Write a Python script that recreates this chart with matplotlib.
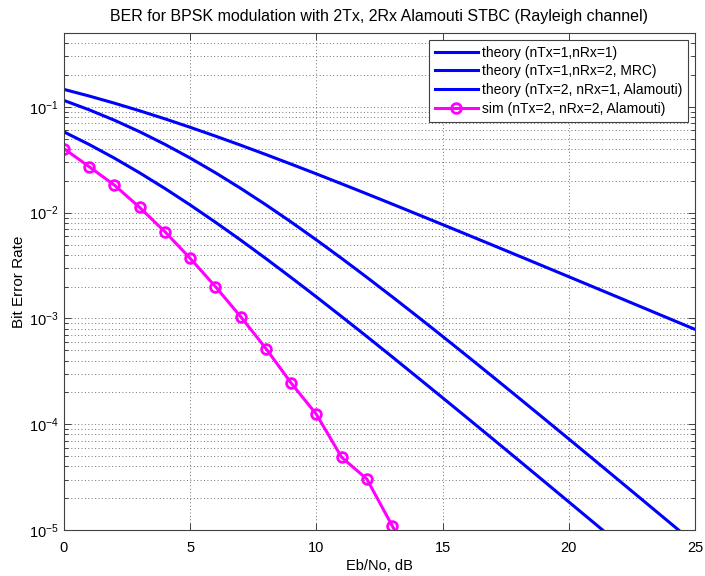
import matplotlib
matplotlib.use("Agg")
import matplotlib.pyplot as plt
from matplotlib.ticker import LogLocator, FixedLocator, NullFormatter

plt.rcParams['font.family'] = ['Liberation Sans', 'DejaVu Sans']
plt.rcParams['mathtext.fontset'] = 'custom'
plt.rcParams['mathtext.rm'] = 'Liberation Sans'

# ---- data ----
eb_n0_db = list(range(0, 26))

theory_nrx1 = [0.14645, 0.12673, 0.10849, 0.09191, 0.07714, 0.06418, 0.05300,
               0.04348, 0.03546, 0.02878, 0.02327, 0.01875, 0.01507, 0.01208,
               0.00966, 0.00772, 0.006163, 0.004915, 0.003916, 0.003118,
               0.002481, 0.001974, 0.001570, 0.001248, 0.000992, 0.000789]

theory_mrc_nrx2 = [0.05806, 0.04411, 0.03276, 0.02379, 0.01693, 0.01183,
                   0.008129, 0.005507, 0.003683, 0.002437, 0.001599,
                   0.0010415, 0.0006745, 0.0004343, 0.0002781, 0.0001780,
                   0.00011348, 7.223e-5, 4.589e-5, 2.9105e-5, 1.8436e-5,
                   1.1675e-5, 7.387e-6, 4.666e-6, 2.950e-6, 1.866e-6]

theory_alamouti_ntx2_nrx1 = [0.11510, 0.09387, 0.07481, 0.05822, 0.04424,
                             0.03286, 0.02387, 0.01699, 0.011874, 0.008161,
                             0.005528, 0.003698, 0.002448, 0.001606,
                             0.0010459, 0.00067697, 0.00043604, 0.00027971,
                             0.00017884, 0.00011404, 7.257e-5, 4.609e-5,
                             2.924e-5, 1.8529e-5, 1.1730e-5, 7.422e-6]

sim_db = list(range(0, 15))
sim_alamouti_ntx2_nrx2 = [0.0403, 0.0272, 0.0182, 0.0112, 0.0066, 0.0037,
                          0.00200, 0.00104, 0.00052, 0.000245, 0.000124,
                          4.87e-5, 3.03e-5, 1.1e-5, 4.0e-6]

labels = ['theory (nTx=1,nRx=1)', 'theory (nTx=1,nRx=2, MRC)',
          'theory (nTx=2, nRx=1, Alamouti)', 'sim (nTx=2, nRx=2, Alamouti)']

# ---- figure ----
fig = plt.figure(figsize=(7.05, 5.76), dpi=100)
ax = fig.add_axes([64/705, 46/576, (695-64)/705, (530-33)/576])

blue = (0, 0, 1)
mag = (1, 0, 1)
ax.semilogy(eb_n0_db, theory_nrx1, '-', color=blue, lw=2.2, label=labels[0])
ax.semilogy(eb_n0_db, theory_mrc_nrx2, '-', color=blue, lw=2.2, label=labels[1])
ax.semilogy(eb_n0_db, theory_alamouti_ntx2_nrx1, '-', color=blue, lw=2.2, label=labels[2])
ax.semilogy(sim_db, sim_alamouti_ntx2_nrx2, '-', color=mag, lw=2.2,
            marker='o', ms=7, mfc='none', mec=mag, mew=2, label=labels[3])

ax.set_xlim(0, 25)
ax.set_ylim(1e-5, 0.5)
ax.xaxis.set_major_locator(FixedLocator([0, 5, 10, 15, 20, 25]))
ax.yaxis.set_major_locator(LogLocator(base=10, numticks=10))
ax.yaxis.set_minor_locator(LogLocator(base=10, subs=range(2, 10), numticks=20))
ax.yaxis.set_minor_formatter(NullFormatter())

gkw = dict(linestyle=(0, (1, 2.5)), color='0.45', lw=0.7)
ax.grid(True, which='major', axis='both', **gkw)
ax.grid(True, which='minor', axis='y', **gkw)

ax.tick_params(which='both', direction='in', top=True, right=True,
               labelsize=10.5, colors='black')
ax.tick_params(which='major', length=5, width=0.7, color='0.25')
ax.tick_params(which='minor', length=3, width=0.7, color='0.25')
ax.tick_params(axis='x', which='major', pad=8)
ax.tick_params(axis='y', which='major', pad=4)
for s in ax.spines.values():
    s.set_linewidth(0.8)
    s.set_color('0.25')

ax.set_title('BER for BPSK modulation with 2Tx, 2Rx Alamouti STBC (Rayleigh channel)',
             fontsize=11.5, pad=9)
ax.set_xlabel('Eb/No, dB', fontsize=10.5, labelpad=3)
ax.set_ylabel('Bit Error Rate', fontsize=11, labelpad=2)

leg = ax.legend(loc='upper right', fontsize=10, fancybox=False, framealpha=1,
                edgecolor='0.25', borderaxespad=0.5, handlelength=3.1,
                labelspacing=0.35, borderpad=0.4, handletextpad=0.3)
leg.get_frame().set_linewidth(0.8)

fig.savefig('out.png', dpi=100)
